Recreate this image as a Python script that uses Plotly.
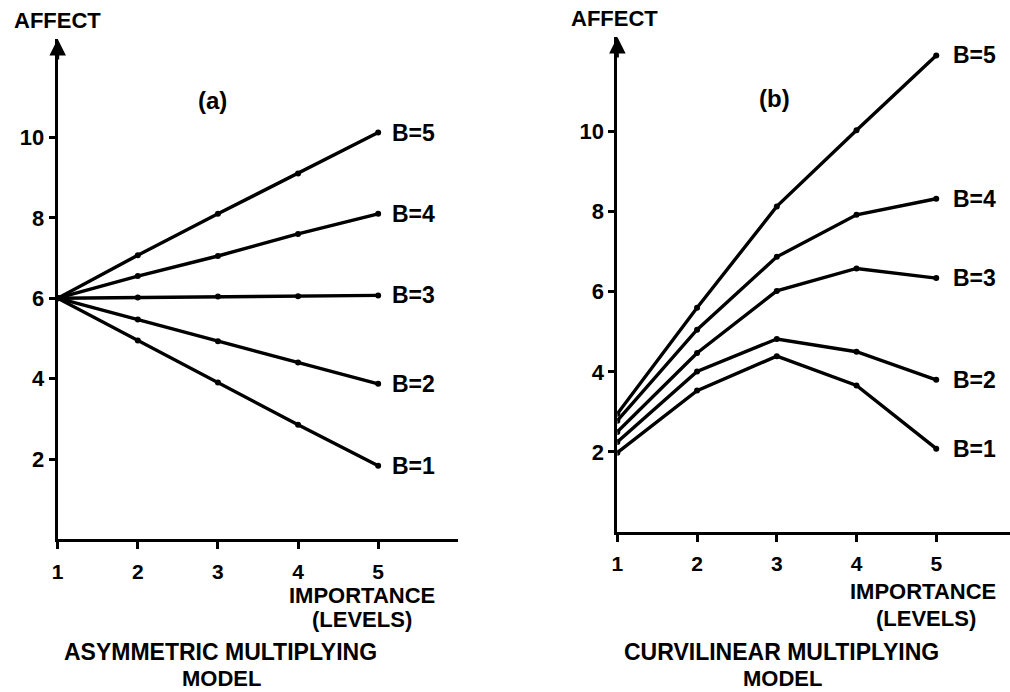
import plotly.graph_objects as go

# ---------------- data ----------------
importance = [1, 2, 3, 4, 5]
b_labels = ["B=1", "B=2", "B=3", "B=4", "B=5"]

# (a) asymmetric multiplying model
a_b1 = [6.0, 4.95, 3.9, 2.85, 1.83]
a_b2 = [6.0, 5.47, 4.93, 4.4, 3.87]
a_b3 = [6.0, 6.02, 6.04, 6.05, 6.07]
a_b4 = [6.0, 6.55, 7.05, 7.6, 8.1]
a_b5 = [6.0, 7.07, 8.1, 9.1, 10.12]

# (b) curvilinear multiplying model
b_b1 = [1.98, 3.53, 4.39, 3.66, 2.08]
b_b2 = [2.25, 4.01, 4.82, 4.5, 3.8]
b_b3 = [2.5, 4.47, 6.02, 6.58, 6.34]
b_b4 = [2.78, 5.05, 6.87, 7.92, 8.32]
b_b5 = [2.95, 5.6, 8.13, 10.03, 11.9]

y_ticks = [2, 4, 6, 8, 10]
x_ticks = [1, 2, 3, 4, 5]

series_a = [a_b1, a_b2, a_b3, a_b4, a_b5]
series_b = [b_b1, b_b2, b_b3, b_b4, b_b5]

# ---------------- figure ----------------
W, H = 1010, 692
FONT = "Liberation Sans, Arial, sans-serif"

fig = go.Figure()

for vals, name in zip(series_a, b_labels):
    fig.add_trace(go.Scatter(
        x=importance, y=vals, mode="lines+markers", name=name,
        line=dict(color="black", width=3.4),
        marker=dict(color="black", size=6),
        xaxis="x", yaxis="y", showlegend=False, hoverinfo="skip"))

for vals, name in zip(series_b, b_labels):
    fig.add_trace(go.Scatter(
        x=importance, y=vals, mode="lines+markers", name=name,
        line=dict(color="black", width=3.4),
        marker=dict(color="black", size=6),
        xaxis="x2", yaxis="y2", showlegend=False, hoverinfo="skip"))


def px_x(p):
    return p / W


def px_y(p):
    return 1 - p / H


def xaxis_cfg(dom, rng, anchor):
    return dict(
        domain=dom, range=rng, anchor=anchor,
        showline=True, linecolor="black", linewidth=3,
        showgrid=False, zeroline=False,
        ticks="outside", ticklen=7, tickwidth=2.5, tickcolor="black",
        tickvals=x_ticks, ticktext=[f"<b>{v}</b>" for v in x_ticks],
        tickfont=dict(family=FONT, size=21, color="black"),
        ticklabelstandoff=4,
        fixedrange=True,
    )


def yaxis_cfg(dom, rng, anchor):
    return dict(
        domain=dom, range=rng, anchor=anchor,
        showline=True, linecolor="black", linewidth=3,
        showgrid=False, zeroline=False,
        ticks="outside", ticklen=6, tickwidth=2.5, tickcolor="black",
        tickvals=y_ticks, ticktext=[f"<b>{v}</b>" for v in y_ticks],
        tickfont=dict(family=FONT, size=22, color="black"),
        fixedrange=True,
    )


a_ytop = (539.4 - 39) / 40.2
b_ytop = (532 - 37) / 40.05

fig.update_layout(
    width=W, height=H,
    margin=dict(l=0, r=0, t=0, b=0),
    paper_bgcolor="white", plot_bgcolor="white",
    xaxis=xaxis_cfg([px_x(52), px_x(455)], [1, 6.0], "y"),
    yaxis=yaxis_cfg([px_y(539.4), px_y(39)], [0, a_ytop], "x"),
    xaxis2=xaxis_cfg([px_x(615), px_x(1010)], [1, 1 + 395 / 80.2], "y2"),
    yaxis2=yaxis_cfg([px_y(532), px_y(37)], [0, b_ytop], "x2"),
    font=dict(family=FONT, color="black"),
)

ann = []

# arrowheads on y axes
ann.append(dict(x=1, y=a_ytop, xref="x", yref="y", ax=0, ay=22, text="",
                showarrow=True, arrowhead=2, arrowsize=1.1, arrowwidth=3,
                arrowcolor="black"))
ann.append(dict(x=1, y=b_ytop, xref="x2", yref="y2", ax=0, ay=22, text="",
                showarrow=True, arrowhead=2, arrowsize=1.1, arrowwidth=3,
                arrowcolor="black"))

# B labels at line ends
for vals, name in zip(series_a, b_labels):
    ann.append(dict(x=importance[-1], y=vals[-1], xref="x", yref="y",
                    text=f"<b>{name}</b>", showarrow=False, xanchor="left",
                    yanchor="middle", xshift=12,
                    font=dict(family=FONT, size=23, color="black")))
for vals, name in zip(series_b, b_labels):
    ann.append(dict(x=importance[-1], y=vals[-1], xref="x2", yref="y2",
                    text=f"<b>{name}</b>", showarrow=False, xanchor="left",
                    yanchor="middle", xshift=15,
                    font=dict(family=FONT, size=23, color="black")))


def txt(x, y, s, size, xanchor="center"):
    ann.append(dict(x=px_x(x), y=px_y(y), xref="paper", yref="paper",
                    text=f"<b>{s}</b>", showarrow=False, xanchor=xanchor,
                    yanchor="middle", borderpad=0,
                    font=dict(family=FONT, size=size, color="black")))


txt(52, 20, "AFFECT", 22)
txt(612, 19, "AFFECT", 22)
txt(208, 101, "(a)", 24)
txt(773, 98, "(b)", 24)
txt(358, 595, "IMPORTANCE", 22)
txt(358, 619, "(LEVELS)", 22)
txt(922, 591, "IMPORTANCE", 22)
txt(925, 618, "(LEVELS)", 22)
txt(216, 652, "ASYMMETRIC MULTIPLYING", 23)
txt(217, 678, "MODEL", 22)
txt(780, 652, "CURVILINEAR MULTIPLYING", 23)
txt(781, 678, "MODEL", 22)

fig.update_layout(annotations=ann)

fig.write_html("out.html")
